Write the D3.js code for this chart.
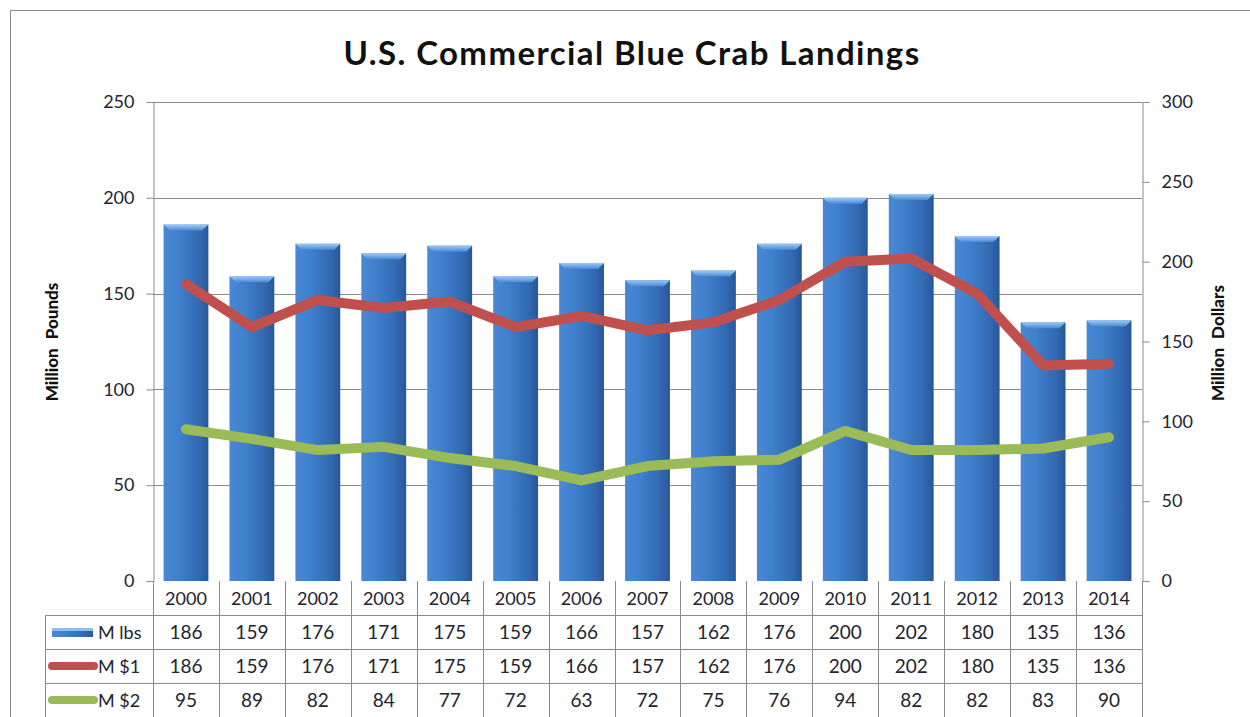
<!DOCTYPE html>
<html>
<head>
<meta charset="utf-8">
<script src="https://cdn.jsdelivr.net/npm/d3@7"></script>
<style>
  body { margin: 0; background: #fff; }
  svg { display: block; font-family: Lato, "Open Sans", sans-serif; }
</style>
</head>
<body>
<div id="chart"></div>
<script>
// Data
const years = ['2000','2001','2002','2003','2004','2005','2006','2007','2008','2009','2010','2011','2012','2013','2014'];
const mLbs = [186, 159, 176, 171, 175, 159, 166, 157, 162, 176, 200, 202, 180, 135, 136];
const mDollars1 = [186, 159, 176, 171, 175, 159, 166, 157, 162, 176, 200, 202, 180, 135, 136];
const mDollars2 = [95, 89, 82, 84, 77, 72, 63, 72, 75, 76, 94, 82, 82, 83, 90];
const leftTicks = [0, 50, 100, 150, 200, 250];
const rightTicks = [0, 50, 100, 150, 200, 250, 300];
const seriesNames = ['M lbs', 'M $1', 'M $2'];

const svgWidth = 1250, svgHeight = 717;
const plot = { left: 153, right: 1142, top: 102, bottom: 581 };
const rowH = 34;
const gridColor = '#8c8c8c';
const textColor = '#22252e';

const svg = d3.select('#chart').append('svg')
    .attr('width', svgWidth)
    .attr('height', svgHeight);

// gradients for the bars
const defs = svg.append('defs');
const barGrad = defs.append('linearGradient').attr('id', 'barGrad')
    .attr('x1', 0).attr('x2', 1).attr('y1', 0).attr('y2', 0);
barGrad.append('stop').attr('offset', '0%').attr('stop-color', '#4a88d4');
barGrad.append('stop').attr('offset', '35%').attr('stop-color', '#3f7fcc');
barGrad.append('stop').attr('offset', '80%').attr('stop-color', '#3268b0');
barGrad.append('stop').attr('offset', '100%').attr('stop-color', '#27579a');
const capGrad = defs.append('linearGradient').attr('id', 'capGrad')
    .attr('x1', 0).attr('x2', 0).attr('y1', 0).attr('y2', 1);
capGrad.append('stop').attr('offset', '0%').attr('stop-color', '#9ccbf4');
capGrad.append('stop').attr('offset', '100%').attr('stop-color', '#4a89d6');

// outer frame
svg.append('rect')
    .attr('x', 10.5).attr('y', 10.5)
    .attr('width', 1300).attr('height', 800)
    .attr('fill', 'none')
    .attr('stroke', '#8c8c8c');

// scales
const xScale = d3.scaleBand()
    .domain(years)
    .range([plot.left, plot.right])
    .paddingInner(0.32)
    .paddingOuter(0.16);

const xCol = d3.scaleBand()
    .domain(years)
    .range([plot.left, plot.right]);

const yLeft = d3.scaleLinear().domain([0, 250]).range([plot.bottom, plot.top]);
const yRight = d3.scaleLinear().domain([0, 300]).range([plot.bottom, plot.top]);

// gridlines
svg.append('g')
    .selectAll('line')
    .data(leftTicks.filter(d => d > 0))
    .join('line')
    .attr('x1', plot.left).attr('x2', plot.right)
    .attr('y1', d => Math.round(yLeft(d)) + 0.5)
    .attr('y2', d => Math.round(yLeft(d)) + 0.5)
    .attr('stroke', gridColor);

// left axis
const leftAxis = svg.append('g')
    .attr('transform', `translate(${plot.left + 0.5},0)`)
    .call(d3.axisLeft(yLeft).tickValues(leftTicks).tickSize(7).tickPadding(12));
// right axis
const rightAxis = svg.append('g')
    .attr('transform', `translate(${plot.right + 0.5},0)`)
    .call(d3.axisRight(yRight).tickValues(rightTicks).tickSize(7).tickPadding(12));

[leftAxis, rightAxis].forEach(ax => {
    ax.select('.domain').attr('stroke', gridColor);
    ax.selectAll('.tick line').attr('stroke', gridColor);
    ax.selectAll('.tick text')
        .attr('fill', textColor)
        .style('font-size', '18px')
        .style('font-family', 'Lato, sans-serif');
});

// bars
const bars = svg.append('g')
    .selectAll('g')
    .data(years.map((y, i) => ({ year: y, v: mLbs[i] })))
    .join('g');

bars.append('rect')
    .attr('x', d => xScale(d.year))
    .attr('y', d => yLeft(d.v))
    .attr('width', xScale.bandwidth())
    .attr('height', d => plot.bottom - yLeft(d.v))
    .attr('fill', 'url(#barGrad)');

bars.append('path')
    .attr('d', d => {
        const x0 = xScale(d.year), x1 = x0 + xScale.bandwidth(), y0 = yLeft(d.v);
        return `M${x0},${y0}L${x1},${y0}L${x1 - 6},${y0 + 6}L${x0 + 6},${y0 + 6}Z`;
    })
    .attr('fill', 'url(#capGrad)');

// lines
const lineRight = d3.line()
    .x((d, i) => xCol(years[i]) + xCol.bandwidth() / 2)
    .y(d => yRight(d));

svg.append('path')
    .datum(mDollars1)
    .attr('d', lineRight)
    .attr('fill', 'none')
    .attr('stroke', '#c0504d')
    .attr('stroke-width', 10)
    .attr('stroke-linecap', 'round')
    .attr('stroke-linejoin', 'round');

svg.append('path')
    .datum(mDollars2)
    .attr('d', lineRight)
    .attr('fill', 'none')
    .attr('stroke', '#9bbb59')
    .attr('stroke-width', 10)
    .attr('stroke-linecap', 'round')
    .attr('stroke-linejoin', 'round');

// title
svg.append('text')
    .attr('x', 632)
    .attr('y', 65)
    .attr('text-anchor', 'middle')
    .style('font-size', '33px')
    .style('font-weight', 'bold')
    .style('letter-spacing', '1.4px')
    .attr('fill', '#111')
    .text('U.S. Commercial Blue Crab Landings');

// axis titles
svg.append('text')
    .attr('transform', 'rotate(-90)')
    .attr('x', -342)
    .attr('y', 58)
    .attr('text-anchor', 'middle')
    .style('font-size', '17px')
    .style('font-weight', '900')
    .style('word-spacing', '5px')
    .attr('fill', '#111')
    .text('Million Pounds');

svg.append('text')
    .attr('transform', 'rotate(-90)')
    .attr('x', -343)
    .attr('y', 1224)
    .attr('text-anchor', 'middle')
    .style('font-size', '17px')
    .style('font-weight', '900')
    .style('word-spacing', '5px')
    .attr('fill', '#111')
    .text('Million Dollars');

// data table
const table = svg.append('g');
const tableLeft = 45;
const rowsData = [mLbs, mDollars1, mDollars2];

// horizontal lines
table.selectAll('.hl')
    .data([1, 2, 3])
    .join('line')
    .attr('x1', tableLeft).attr('x2', plot.right)
    .attr('y1', r => plot.bottom + rowH * r + 0.5)
    .attr('y2', r => plot.bottom + rowH * r + 0.5)
    .attr('stroke', gridColor);

// vertical column separators
const colEdges = years.map(y => xCol(y)).concat([plot.right]);
table.selectAll('.vl')
    .data(colEdges)
    .join('line')
    .attr('x1', d => Math.round(d) + 0.5).attr('x2', d => Math.round(d) + 0.5)
    .attr('y1', plot.bottom).attr('y2', svgHeight)
    .attr('stroke', gridColor);

table.append('line')
    .attr('x1', tableLeft + 0.5).attr('x2', tableLeft + 0.5)
    .attr('y1', plot.bottom + rowH).attr('y2', svgHeight)
    .attr('stroke', gridColor);

// header years
table.selectAll('.yr')
    .data(years)
    .join('text')
    .attr('x', d => xCol(d) + xCol.bandwidth() / 2)
    .attr('y', plot.bottom + rowH / 2 + 7)
    .attr('text-anchor', 'middle')
    .style('font-size', '18px')
    .attr('fill', textColor)
    .text(d => d);

// values
rowsData.forEach((row, r) => {
    table.append('g')
        .selectAll('text')
        .data(row)
        .join('text')
        .attr('x', (d, i) => xCol(years[i]) + xCol.bandwidth() / 2)
        .attr('y', plot.bottom + rowH * (r + 1) + rowH / 2 + 7)
        .attr('text-anchor', 'middle')
        .style('font-size', '19px')
        .attr('fill', textColor)
        .text(d => d);
});

// legend keys in the table
const keyY = r => plot.bottom + rowH * (r + 1) + rowH / 2;
table.append('rect')
    .attr('x', 52).attr('y', keyY(0) - 4)
    .attr('width', 41).attr('height', 9)
    .attr('fill', 'url(#barGrad)');
table.append('rect')
    .attr('x', 52).attr('y', keyY(0) - 4)
    .attr('width', 41).attr('height', 3)
    .attr('fill', '#8cc0f0');
table.append('line')
    .attr('x1', 52).attr('x2', 94)
    .attr('y1', keyY(1)).attr('y2', keyY(1))
    .attr('stroke', '#c0504d').attr('stroke-width', 8).attr('stroke-linecap', 'round');
table.append('line')
    .attr('x1', 52).attr('x2', 94)
    .attr('y1', keyY(2)).attr('y2', keyY(2))
    .attr('stroke', '#9bbb59').attr('stroke-width', 8).attr('stroke-linecap', 'round');

table.selectAll('.lbl')
    .data(seriesNames)
    .join('text')
    .attr('x', 98)
    .attr('y', (d, r) => keyY(r) + 7)
    .style('font-size', '18px')
    .attr('fill', textColor)
    .text(d => d);
</script>
</body>
</html>
